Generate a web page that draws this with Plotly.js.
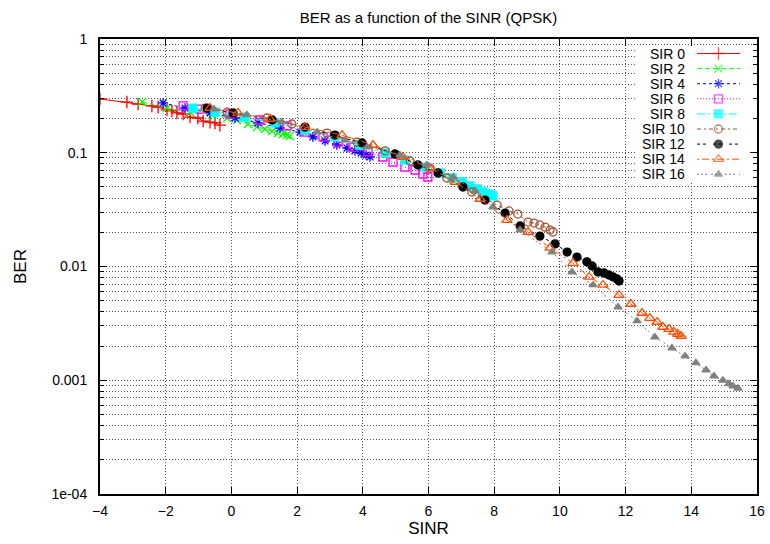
<!DOCTYPE html>
<html>
<head>
<meta charset="utf-8">
<script src="https://cdn.plot.ly/plotly-3.0.1.min.js"></script>
<style>html,body{margin:0;padding:0;background:#fff;}#chart{width:770px;height:544px;}</style>
</head>
<body>
<div id="chart"></div>
<script>
// ---- data (SINR in dB, BER) ----
const seriesNames = ['SIR 0','SIR 2','SIR 4','SIR 6','SIR 8','SIR 10','SIR 12','SIR 14','SIR 16'];

const sinr0 = [-4.00,-3.18,-2.84,-2.42,-2.23,-1.96,-1.81,-1.66,-1.47,-1.26,-1.02,-0.86,-0.65,-0.50,-0.35];
const ber0  = [0.297,0.279,0.268,0.258,0.252,0.238,0.233,0.224,0.219,0.206,0.202,0.190,0.186,0.183,0.175];

const sinr2 = [-2.72,-1.96,-1.26,-0.59,-0.13,0.17,0.51,0.78,1.02,1.24,1.42,1.57,1.69,1.78];
const ber2  = [0.279,0.247,0.228,0.215,0.202,0.194,0.179,0.168,0.162,0.155,0.149,0.146,0.143,0.140];

const sinr4 = [-2.08,-1.41,-0.65,0.11,0.81,1.48,2.09,2.48,2.85,3.21,3.52,3.76,3.95,4.10,4.22];
const ber4  = [0.274,0.247,0.224,0.202,0.183,0.165,0.152,0.138,0.127,0.117,0.110,0.104,0.0995,0.0955,0.0918];

const sinr6 = [-1.47,-0.96,-0.04,0.87,1.69,2.24,2.79,3.25,3.70,4.16,4.61,4.92,5.28,5.59,5.83,5.98];
const ber6  = [0.258,0.242,0.219,0.194,0.172,0.152,0.138,0.124,0.112,0.102,0.0918,0.0829,0.0749,0.0705,0.0650,0.0612];

const sinr8 = [-1.17,-0.50,0.41,1.33,2.24,3.15,3.91,4.68,5.28,5.89,6.35,6.72,7.02,7.26,7.48,7.66,7.81,7.90,7.96];
const ber8  = [0.247,0.228,0.206,0.183,0.158,0.138,0.117,0.0995,0.0863,0.0749,0.0664,0.0600,0.0553,0.0510,0.0480,0.0452,0.0434,0.0425,0.0417];

const sinr10 = [-0.80,-0.13,1.08,1.84,2.91,3.82,4.68,5.44,6.05,6.56,7.32,8.09,8.45,8.72,9.03,9.21,9.39,9.55,9.70,9.79];
const ber10  = [0.247,0.228,0.202,0.179,0.149,0.124,0.104,0.0846,0.0734,0.0600,0.0452,0.0347,0.0308,0.0289,0.0246,0.0241,0.0232,0.0222,0.0209,0.0201];

const sinr12 = [-0.74,0.05,1.24,2.24,3.15,3.98,4.98,5.68,6.29,7.05,7.72,8.33,8.79,9.39,9.85,10.22,10.52,10.82,10.98,11.16,11.34,11.49,11.62,11.74,11.80];
const ber12  = [0.247,0.224,0.194,0.168,0.143,0.122,0.0975,0.0780,0.0664,0.0500,0.0384,0.0295,0.0227,0.0185,0.0158,0.0134,0.0121,0.0110,0.0101,0.00895,0.00877,0.00842,0.00809,0.00777,0.00746];

const sinr14 = [-0.65,0.20,1.18,2.24,3.37,4.31,5.22,6.05,6.81,7.57,8.39,9.03,9.70,10.40,10.89,11.31,11.80,12.16,12.50,12.74,12.96,13.14,13.32,13.47,13.59,13.69];
const ber14  = [0.247,0.224,0.198,0.168,0.143,0.117,0.0918,0.0734,0.0553,0.0392,0.0256,0.0201,0.0146,0.0107,0.00809,0.00688,0.00561,0.00468,0.00390,0.00352,0.00325,0.00294,0.00282,0.00266,0.00255,0.00245];

const sinr16 = [-0.53,0.47,1.54,2.61,3.46,4.13,5.13,5.95,6.75,7.42,7.96,8.79,9.76,10.37,11.01,11.77,12.35,12.89,13.41,13.81,14.14,14.45,14.69,14.96,15.15,15.27,15.42];
const ber16  = [0.242,0.215,0.186,0.152,0.129,0.112,0.0955,0.0780,0.0612,0.0461,0.0333,0.0209,0.0134,0.00895,0.00688,0.00440,0.00332,0.00240,0.00192,0.00163,0.00142,0.00123,0.00109,0.00100,0.00093,0.00089,0.00085];

const xTickVals = [-4,-2,0,2,4,6,8,10,12,14,16];
const yTickVals = [1e-4,1e-3,1e-2,0.1,1];
const yTickText = ['1e-04','0.001','0.01','0.1','1'];

// ---- styles ----
const xs = [sinr0,sinr2,sinr4,sinr6,sinr8,sinr10,sinr12,sinr14,sinr16];
const ys = [ber0,ber2,ber4,ber6,ber8,ber10,ber12,ber14,ber16];
const colors  = ['#ff0000','#00ff00','#0000ff','#ff00ff','#00ffff','#a0522d','#000000','#ff4d00','#808080'];
const symbols = ['cross-thin-open','x-thin-open','asterisk-open','square-open','square','circle-open','circle','triangle-up-open','triangle-up'];
const msizes  = [9,8,8,8,8,8,8,9,7];
const dashes  = ['solid','5px,3px','3px,3px','1px,2px','8px,3px,2px,3px','4px,3px,2px,3px','3px,3px,3px,7px','2px,3px,7px,3px','2px,2px,2px,2px,2px,4px'];

const traces = [];
for (let i = 0; i < xs.length; i++) {
  traces.push({
    type: 'scatter', mode: 'lines+markers', name: seriesNames[i],
    x: xs[i], y: ys[i], xaxis: 'x', yaxis: 'y',
    line: {color: colors[i], width: 1, dash: dashes[i]},
    marker: {symbol: symbols[i], size: msizes[i], color: colors[i], line: {color: colors[i], width: 1.3}},
    showlegend: false, hoverinfo: 'skip'
  });
}

// manual gnuplot-style key: text right-aligned, sample to its right (overlay axes in pixel-like units)
const keyTextX = 687, keyLineX0 = 697, keyLineX1 = 740, keyY0 = 53.5, keyStep = 15.1;
const annotations = [];
for (let i = 0; i < seriesNames.length; i++) {
  const yy = keyY0 + i * keyStep;
  traces.push({
    type: 'scatter', mode: 'lines+markers', xaxis: 'x2', yaxis: 'y2',
    x: [keyLineX0, (keyLineX0 + keyLineX1) / 2, keyLineX1], y: [yy, yy, yy],
    line: {color: colors[i], width: 1, dash: dashes[i]},
    marker: {symbol: symbols[i], size: [0, msizes[i], 0], color: colors[i], line: {color: colors[i], width: 1.3}},
    showlegend: false, hoverinfo: 'skip'
  });
  annotations.push({
    xref: 'x2', yref: 'y2', x: keyTextX, y: yy, text: seriesNames[i],
    xanchor: 'right', yanchor: 'middle', showarrow: false,
    font: {family: 'Liberation Sans, Arial, sans-serif', size: 14, color: '#000'}
  });
}

const minorVals = [];
for (let e = -4; e < 0; e++) for (let d = 2; d <= 9; d++) minorVals.push(d * Math.pow(10, e));

const gridCol = '#555';
const gridDash = '1px,2px';
const layout = {
  width: 770, height: 544,
  margin: {l: 100, r: 13, t: 39, b: 50},
  paper_bgcolor: '#fff', plot_bgcolor: '#fff',
  font: {family: 'Liberation Sans, Arial, sans-serif', size: 14, color: '#000'},
  showlegend: false,
  title: {text: 'BER as a function of the SINR (QPSK)', x: 0.5, xref: 'paper', xanchor: 'center',
          y: 1 - 18 / 544, yref: 'container', yanchor: 'middle', font: {size: 15, color: '#000'}},
  xaxis: {
    range: [-4, 16], tickmode: 'array', tickvals: xTickVals, ticks: 'inside', ticklen: 7, tickwidth: 1, tickcolor: '#000',
    showline: true, linecolor: '#000', linewidth: 2, mirror: 'allticks', zeroline: false,
    showgrid: true, gridcolor: gridCol, gridwidth: 1, griddash: gridDash,
    title: {text: 'SINR', standoff: 3}, ticklabelstandoff: 3
  },
  yaxis: {
    type: 'log', range: [-4, 0], tickmode: 'array', tickvals: yTickVals, ticktext: yTickText,
    ticks: 'inside', ticklen: 7, tickwidth: 1, tickcolor: '#000',
    showline: true, linecolor: '#000', linewidth: 2, mirror: 'allticks', zeroline: false,
    showgrid: true, gridcolor: gridCol, gridwidth: 1, griddash: gridDash,
    minor: {tickmode: 'array', tickvals: minorVals, ticks: 'inside', ticklen: 4, tickcolor: '#000',
            showgrid: true, gridcolor: gridCol, gridwidth: 1, griddash: gridDash},
    title: {text: 'BER', standoff: 20}, ticklabelstandoff: 8
  },
  xaxis2: {overlaying: 'x', anchor: 'y2', range: [100, 757], visible: false, fixedrange: true},
  yaxis2: {overlaying: 'y', anchor: 'x2', range: [494, 39], visible: false, fixedrange: true},
  // white key background hiding the grid (data values on the log axis)
  shapes: [{type: 'rect', xref: 'x', yref: 'y', x0: 12.32, x1: 15.94, y0: 0.0553, y1: 0.868,
            fillcolor: '#fff', line: {width: 0}, layer: 'between'}],
  annotations: annotations
};

Plotly.newPlot('chart', traces, layout, {staticPlot: true, displayModeBar: false});
</script>
</body>
</html>
